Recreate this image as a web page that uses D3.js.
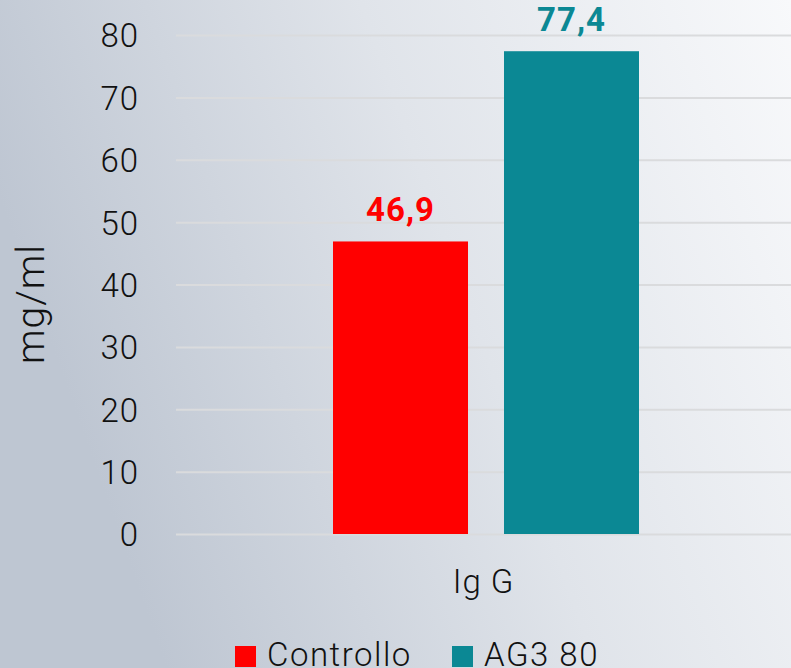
<!DOCTYPE html>
<html>
<head>
<meta charset="utf-8">
<script src="https://cdn.jsdelivr.net/npm/d3@7"></script>
<style>
  html, body { margin: 0; padding: 0; }
  body { width: 791px; height: 668px; overflow: hidden; }
  text { font-family: Roboto, "Open Sans", sans-serif; }
</style>
</head>
<body>
<script>
  var categories = ["Ig G"];
  var series = ["Controllo", "AG3 80"];
  var values = [46.9, 77.4];
  var labels = ["46,9", "77,4"];
  var colors = ["#ff0000", "#0b8894"];
  var yTicks = [0, 10, 20, 30, 40, 50, 60, 70, 80];

  var W = 791, H = 668;
  var chart = { left: 176, right: 791, top: 35, bottom: 534 };

  var svg = d3.select("body").append("svg")
    .attr("width", W)
    .attr("height", H);

  //background gradient
  var grad = svg.append("defs").append("linearGradient")
    .attr("id", "bg")
    .attr("x1", "0%").attr("y1", "30%")
    .attr("x2", "100%").attr("y2", "0%");
  grad.append("stop").attr("offset", "0%").attr("stop-color", "#bec6d2");
  grad.append("stop").attr("offset", "50%").attr("stop-color", "#e0e4ea");
  grad.append("stop").attr("offset", "100%").attr("stop-color", "#f8f9fb");
  svg.append("rect")
    .attr("width", W).attr("height", H)
    .attr("fill", "url(#bg)");

  var y = d3.scaleLinear()
    .domain([0, 80])
    .range([chart.bottom, chart.top]);

  var x0 = d3.scaleBand()
    .domain(categories)
    .range([chart.left, chart.right]);

  //bars sit in the middle half of the category band
  var x1 = d3.scaleBand()
    .domain(series)
    .range([333 - chart.left, 639 - chart.left])
    .paddingInner(0.2105);

  //gridlines + tick labels
  var yAxis = svg.append("g")
    .attr("transform", "translate(" + chart.left + ",0)")
    .call(d3.axisLeft(y).tickValues(yTicks).tickSize(-(chart.right - chart.left)).tickPadding(37));
  yAxis.select(".domain").remove();
  yAxis.selectAll(".tick line")
    .attr("stroke", "#dadbdd")
    .attr("stroke-width", 2);
  yAxis.selectAll(".tick text")
    .attr("fill", "#111")
    .attr("font-size", 33)
    .attr("font-weight", 300)
    .attr("letter-spacing", 1)
    .attr("dy", "0.36em");

  //bars
  var groups = svg.append("g")
    .selectAll("g")
    .data(categories)
    .enter().append("g")
    .attr("transform", function(d){ return "translate(" + x0(d) + ",0)"; });

  groups.selectAll("rect")
    .data(values)
    .enter().append("rect")
    .attr("x", function(d, i){ return x1(series[i]); })
    .attr("y", function(d){ return y(d); })
    .attr("width", x1.bandwidth())
    .attr("height", function(d){ return y(0) - y(d); })
    .attr("fill", function(d, i){ return colors[i]; });

  //value labels
  groups.selectAll("text.val")
    .data(values)
    .enter().append("text")
    .classed("val", true)
    .attr("x", function(d, i){ return x1(series[i]) + x1.bandwidth() / 2; })
    .attr("y", function(d){ return y(d) - 20; })
    .attr("text-anchor", "middle")
    .attr("font-size", 33)
    .attr("font-weight", "bold")
    .attr("letter-spacing", 1)
    .attr("fill", function(d, i){ return colors[i]; })
    .text(function(d, i){ return labels[i]; });

  //category label
  svg.append("g")
    .selectAll("text")
    .data(categories)
    .enter().append("text")
    .attr("x", function(d){ return x0(d) + x0.bandwidth() / 2; })
    .attr("y", 593)
    .attr("text-anchor", "middle")
    .attr("font-size", 33)
    .attr("font-weight", 300)
    .attr("letter-spacing", 1)
    .attr("fill", "#111")
    .text(function(d){ return d; });

  //y title
  svg.append("text")
    .attr("transform", "translate(44,304) rotate(-90)")
    .attr("text-anchor", "middle")
    .attr("font-size", 39)
    .attr("font-weight", 300)
    .attr("letter-spacing", 1)
    .attr("fill", "#111")
    .text("mg/ml");

  //legend
  var legendX = [235, 452];
  var legend = svg.append("g")
    .selectAll("g")
    .data(series)
    .enter().append("g")
    .attr("transform", function(d, i){ return "translate(" + legendX[i] + ",646)"; });
  legend.append("rect")
    .attr("width", 21)
    .attr("height", 21)
    .attr("fill", function(d, i){ return colors[i]; });
  legend.append("text")
    .attr("x", 32)
    .attr("y", 20)
    .attr("font-size", 33)
    .attr("font-weight", 300)
    .attr("letter-spacing", 1.5)
    .attr("fill", "#111")
    .text(function(d){ return d; });
</script>
</body>
</html>
